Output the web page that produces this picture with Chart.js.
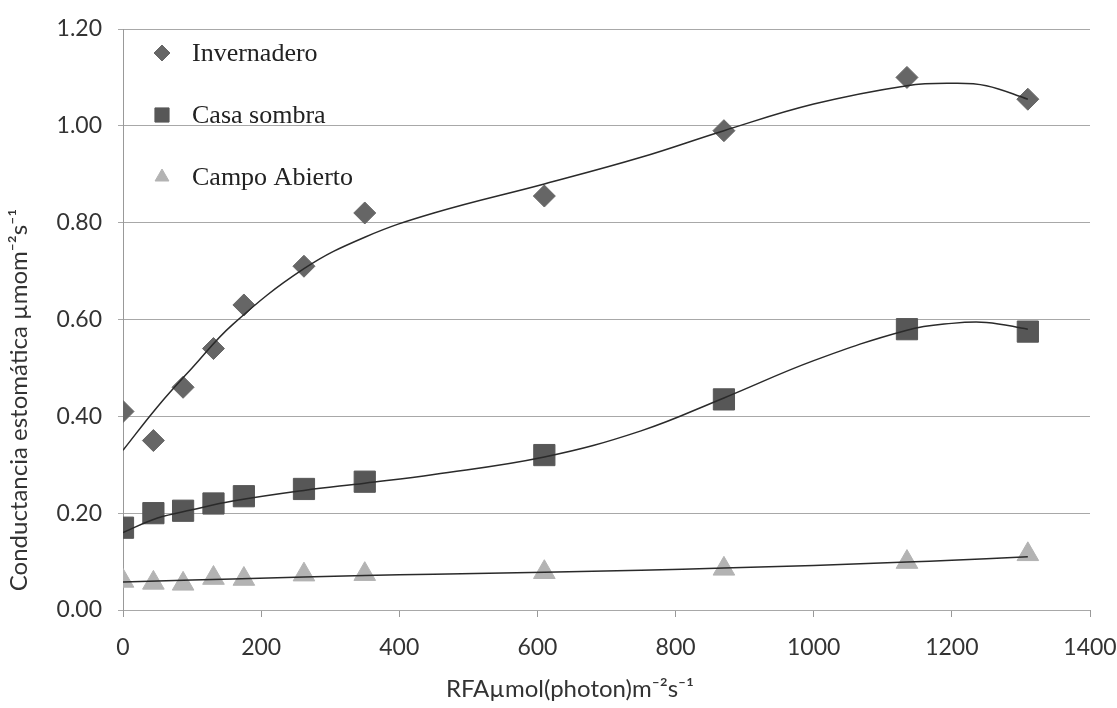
<!DOCTYPE html>
<html>
<head>
<meta charset="utf-8">
<script src="https://cdn.jsdelivr.net/npm/chart.js@4"></script>
<style>
  body { margin: 0; background: #fff; }
  #wrap { width: 1117px; height: 708px; }
</style>
</head>
<body>
<div id="wrap"><canvas id="grafico" width="1117" height="708"></canvas></div>
<script>
// valores
const rfa = [0, 44, 87, 131, 175, 262, 350, 610, 870, 1135, 1310];
const invernadero = [0.41, 0.35, 0.46, 0.54, 0.63, 0.71, 0.82, 0.855, 0.99, 1.10, 1.055];
const casaSombra = [0.17, 0.20, 0.205, 0.22, 0.235, 0.25, 0.265, 0.32, 0.435, 0.58, 0.575];
const campoAbierto = [0.06, 0.056, 0.054, 0.066, 0.064, 0.073, 0.074, 0.078, 0.085, 0.099, 0.115];

// líneas de tendencia
const tendX = [0, 50, 100, 159, 262, 350, 450, 610, 750, 870, 1000, 1135, 1200, 1250, 1310];
const tendInvernadero = [0.33, 0.42, 0.50, 0.59, 0.705, 0.77, 0.82, 0.88, 0.935, 0.99, 1.045, 1.083, 1.088, 1.083, 1.055];
const tendCasaSombra = [0.16, 0.19, 0.207, 0.225, 0.247, 0.262, 0.28, 0.316, 0.37, 0.438, 0.515, 0.578, 0.592, 0.594, 0.58];
const tendCampoAbierto = [0.058, 0.06, 0.062, 0.064, 0.068, 0.071, 0.074, 0.078, 0.082, 0.087, 0.092, 0.099, 0.103, 0.106, 0.11];

const nombres = ["Invernadero", "Casa sombra", "Campo Abierto"];
const tituloX = "RFAµmol(photon)m⁻²s⁻¹";
const tituloY = "Conductancia estomática µmom⁻²s⁻¹";

function pares(xs, ys) {
  return xs.map((x, i) => ({ x: x, y: ys[i] }));
}

function serie(nombre, ys, estilo, radio, color) {
  return {
    type: "scatter",
    label: nombre,
    data: pares(rfa, ys),
    pointStyle: estilo,
    pointRadius: radio,
    pointBackgroundColor: color,
    pointBorderColor: color,
    pointBorderWidth: 1,
    order: 1,
  };
}

function tendencia(ys) {
  return {
    type: "line",
    label: "",
    esTendencia: true,
    data: pares(tendX, ys),
    borderColor: "#2a2a2a",
    borderWidth: 1.5,
    pointRadius: 0,
    tension: 0.4,
    fill: false,
    order: 0,
  };
}

const leyenda = {
  id: "leyenda",
  afterDraw(chart) {
    const ctx = chart.ctx;
    const filas = [53, 115, 177];
    const radios = [8, 10, 8];
    let k = 0;
    chart.data.datasets.forEach((ds) => {
      if (ds.esTendencia) return;
      const y = filas[k];
      ctx.save();
      ctx.fillStyle = ds.pointBackgroundColor;
      ctx.strokeStyle = ds.pointBorderColor;
      Chart.helpers.drawPoint(ctx, { pointStyle: ds.pointStyle, radius: radios[k], borderWidth: 1, rotation: 0 }, 162, y);
      ctx.fillStyle = "#222";
      ctx.font = "26px 'Liberation Serif'";
      ctx.textBaseline = "middle";
      ctx.fillText(ds.label, 192, y + 1);
      ctx.restore();
      k++;
    });
  },
};

// títulos de los ejes, en la posición del original
const titulos = {
  id: "titulos",
  afterDraw(chart) {
    const ctx = chart.ctx;
    ctx.save();
    ctx.fillStyle = "#333";
    ctx.font = "24px Lato";
    ctx.textAlign = "center";
    ctx.textBaseline = "middle";
    ctx.fillText(tituloX, 570, 689);
    ctx.translate(19, 400);
    ctx.rotate(-Math.PI / 2);
    ctx.fillText(tituloY, 0, 0);
    ctx.restore();
  },
};

const ctx = document.getElementById("grafico").getContext("2d");
new Chart(ctx, {
  data: {
    datasets: [
      serie(nombres[0], invernadero, "rectRot", 11, "#666666"),
      serie(nombres[1], casaSombra, "rect", 15, "#575757"),
      serie(nombres[2], campoAbierto, "triangle", 12.5, "#b3b3b3"),
      tendencia(tendInvernadero),
      tendencia(tendCasaSombra),
      tendencia(tendCampoAbierto),
    ],
  },
  options: {
    responsive: false,
    animation: false,
    layout: { padding: { left: 0, top: 29, right: 27, bottom: 0 } },
    plugins: {
      legend: { display: false },
      tooltip: { enabled: false },
    },
    scales: {
      x: {
        type: "linear",
        min: 0,
        max: 1400,
        ticks: {
          stepSize: 200,
          color: "#333",
          font: { family: "Lato", size: 23 },
          padding: 17,
          callback: (v) => String(v),
        },
        grid: { drawOnChartArea: false, tickLength: 7, color: "#999" },
        border: { display: false },
        afterFit: (s) => {
          s.height = 98;
          s.paddingLeft = 0;
          s.paddingRight = 0;
        },
      },
      y: {
        min: 0,
        max: 1.2,
        ticks: {
          stepSize: 0.2,
          color: "#333",
          font: { family: "Lato", size: 23 },
          padding: 16,
          callback: (v) => v.toFixed(2),
        },
        grid: { color: "#a8a8a8", tickLength: 5 },
        border: { display: true, color: "#999" },
        afterFit: (s) => {
          s.width = 123;
          s.paddingTop = 0;
          s.paddingBottom = 0;
        },
      },
    },
  },
  plugins: [leyenda, titulos],
});
</script>
</body>
</html>
